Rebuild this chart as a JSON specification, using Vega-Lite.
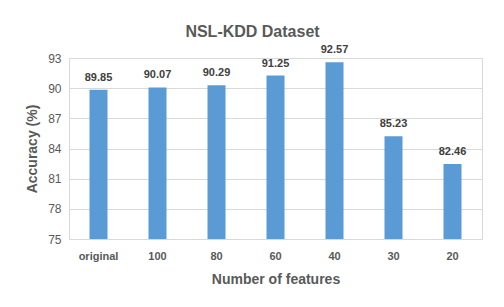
{
  "$schema": "https://vega.github.io/schema/vega-lite/v6.json",
  "autosize": {"type": "none"},
  "width": 413,
  "height": 181,
  "padding": {"left": 69, "top": 58, "right": 22, "bottom": 68},
  "background": "white",
  "title": {"text": "NSL-KDD Dataset", "font": "Liberation Sans", "fontSize": 16, "fontWeight": "bold", "color": "#595959", "offset": 4, "dx": -23},
  "data": {"values": [
    {"features": "original", "accuracy": 89.85},
    {"features": "100", "accuracy": 90.07},
    {"features": "80", "accuracy": 90.29},
    {"features": "60", "accuracy": 91.25},
    {"features": "40", "accuracy": 92.57},
    {"features": "30", "accuracy": 85.23},
    {"features": "20", "accuracy": 82.46}
  ]},
  "encoding": {
    "x": {"field": "features", "type": "nominal", "sort": null,
      "axis": {"title": "Number of features", "labelAngle": 0, "labelFont": "Liberation Sans", "labelFontSize": 11, "labelFontWeight": "bold", "labelColor": "#595959", "labelPadding": 11, "ticks": false, "domainColor": "#d9d9d9",
        "titleFont": "Liberation Sans", "titleFontSize": 14, "titleFontWeight": "bold", "titleColor": "#595959", "titlePadding": 11}},
    "y": {"field": "accuracy", "type": "quantitative", "scale": {"domain": [75, 93], "nice": false, "zero": false},
      "axis": {"title": "Accuracy (%)", "values": [75, 78, 81, 84, 87, 90, 93], "ticks": false, "domain": false, "gridColor": "#d9d9d9", "labelFont": "Liberation Sans", "labelFontSize": 12, "labelColor": "#595959", "labelPadding": 8,
        "titleFont": "Liberation Sans", "titleFontSize": 14, "titleFontWeight": "bold", "titleColor": "#595959", "titlePadding": 8}}
  },
  "layer": [
    {"mark": {"type": "bar", "size": 18, "color": "#5B9BD5", "clip": true}},
    {"mark": {"type": "text", "dy": -12, "font": "Liberation Sans", "fontSize": 11, "fontWeight": "bold", "color": "#404040"},
      "encoding": {"text": {"field": "accuracy", "type": "quantitative", "format": ".2f"}}}
  ],
  "config": {"view": {"stroke": "#d9d9d9"}}
}
